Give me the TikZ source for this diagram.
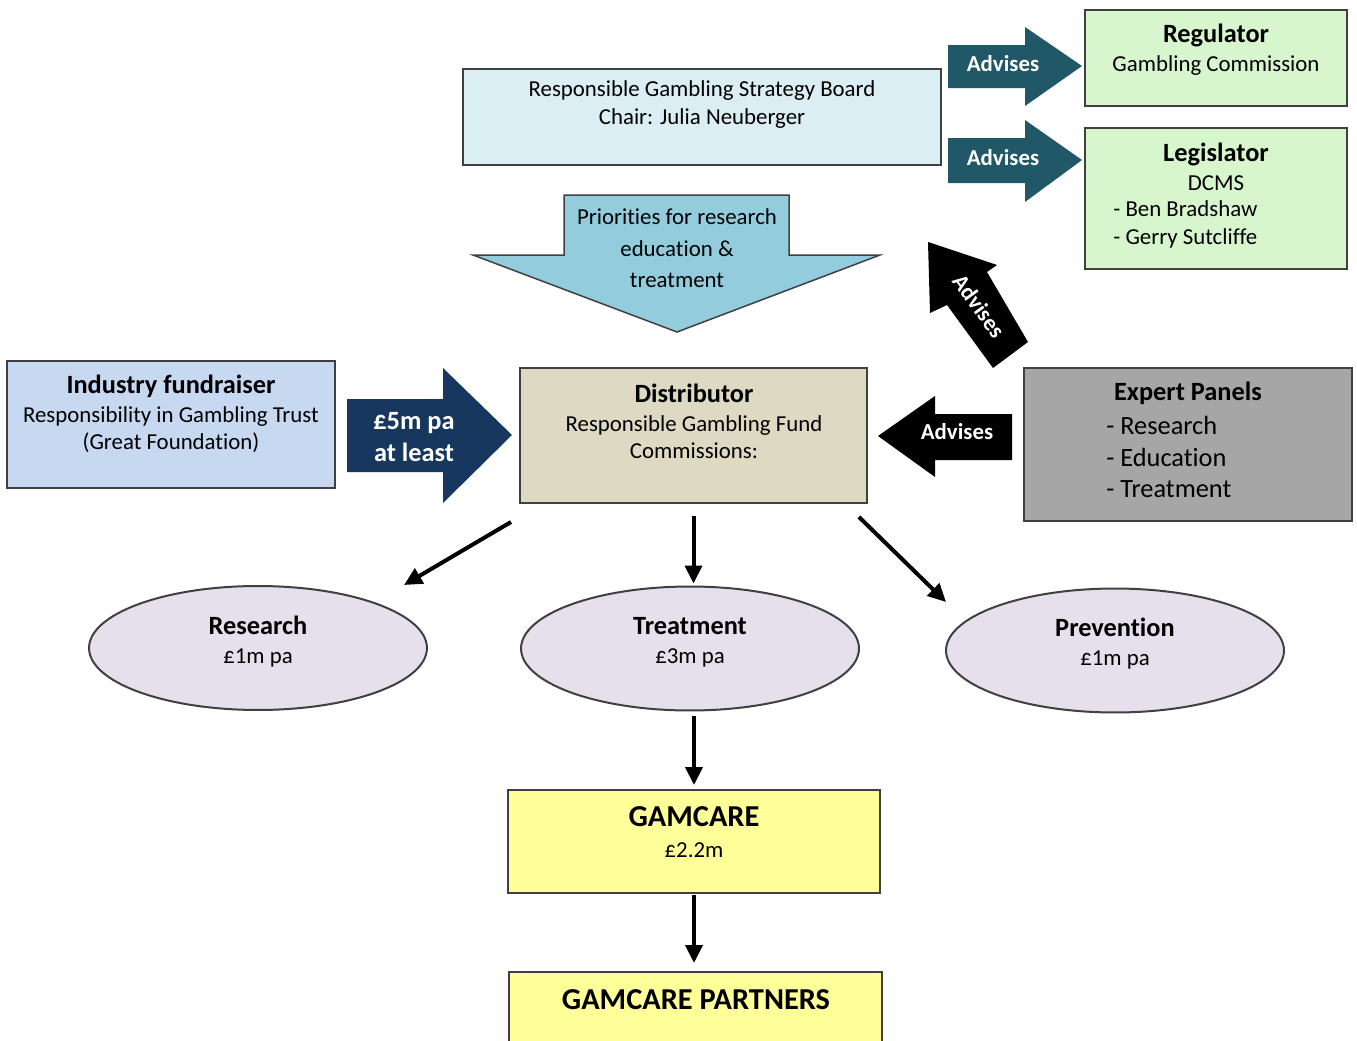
\documentclass[tikz,border=0pt]{standalone}
\usepackage{fontspec}
\setmainfont{Carlito}[Ligatures=NoCommon]
\usetikzlibrary{arrows.meta,shapes.geometric}

\definecolor{edge}{HTML}{404040}
\definecolor{boardblue}{HTML}{DBEEF4}
\definecolor{mint}{HTML}{D7F6CE}
\definecolor{advteal}{HTML}{215868}
\definecolor{prioblue}{HTML}{93CDDD}
\definecolor{fundblue}{HTML}{C6D9F1}
\definecolor{fundnavy}{HTML}{17375E}
\definecolor{disttan}{HTML}{DDD9C3}
\definecolor{panelgray}{HTML}{A6A6A6}
\definecolor{lilac}{HTML}{E5E0EC}
\definecolor{gamyellow}{HTML}{FFFF99}

\newcommand{\ttl}[1]{{\fontsize{15}{17}\selectfont\bfseries #1}}

\begin{document}
\begin{tikzpicture}[x=0.02cm, y=-0.02cm]

\tikzstyle{box}=[draw=edge, line width=0.04cm, inner sep=0pt];
\tikzstyle{oval}=[box, ellipse, fill=lilac, minimum width=6.76cm, minimum height=2.48cm];
\tikzstyle{t}=[inner sep=0pt, align=center, font=\fontsize{13}{15.5}\selectfont];
\tikzstyle{wt}=[t, text=white, font=\fontsize{13}{15.5}\selectfont\bfseries];
\tikzstyle{e}=[line width=0.08cm, -{Triangle[length=0.36cm, width=0.34cm]}];

\path[use as bounding box, fill=white] (0,0) rectangle (1357,1041);
\clip (0,0) rectangle (1357,1041);

% board, regulator, legislator
\node[box, fill=boardblue, minimum width=9.56cm, minimum height=1.92cm] (board) at (702,117) {};
\node[t] (board_t) at (702,104.5) {Responsible Gambling Strategy Board\\Chair: Julia Neuberger};

\node[box, fill=mint, minimum width=5.24cm, minimum height=1.92cm] (reg) at (1216,58) {};
\node[t, font=\fontsize{13}{16.4}\selectfont] (reg_t) at (1216,49.5) {\ttl{Regulator}\\Gambling Commission};

\node[box, fill=mint, minimum width=5.24cm, minimum height=2.82cm] (leg) at (1216,198.5) {};
\node[t, font=\fontsize{13}{16.4}\selectfont] (leg_t) at (1216,166.5) {\ttl{Legislator}\\DCMS};
\node[t, align=left, anchor=west, font=\fontsize{13}{15.9}\selectfont] (leg_l) at (1113,224) {- Ben Bradshaw\\- Gerry Sutcliffe};

\fill[advteal] (948,45) -- (1025,45) -- (1025,27) -- (1082,66) -- (1025,106) -- (1025,88) -- (948,88) -- cycle;
\node[wt] (adv_reg) at (1003,64) {Advises};
\fill[advteal] (948,138) -- (1025,138) -- (1025,120) -- (1082,160) -- (1025,202) -- (1025,183) -- (948,183) -- cycle;
\node[wt] (adv_leg) at (1003,158) {Advises};

% priorities
\draw[edge, fill=prioblue, line width=0.03cm] (564,195) -- (789,195) -- (789,255) -- (880,255) -- (677,332) -- (473,255) -- (564,255) -- cycle;
\node[t, font=\fontsize{13}{17.9}\selectfont] (prio) at (677,248.5) {Priorities for research\\education \&\\treatment};

% fundraiser and distributor
\node[box, fill=fundblue, minimum width=6.56cm, minimum height=2.54cm] (fund) at (171,424.5) {};
\node[t] (fund_t) at (171,414) {\ttl{Industry fundraiser}\\[1pt]Responsibility in Gambling Trust\\(Great Foundation)};

\fill[fundnavy] (347,399) -- (443,399) -- (443,368) -- (512,435) -- (443,503) -- (443,472) -- (347,472) -- cycle;
\node[wt, font=\fontsize{15}{18.1}\selectfont\bfseries] (five) at (414,437) {£5m pa\\at least};

\node[box, fill=disttan, minimum width=6.94cm, minimum height=2.70cm] (dist) at (693.5,435.5) {};
\node[t] (dist_t) at (694,421.5) {\ttl{Distributor}\\[1pt]Responsible Gambling Fund\\Commissions:};

% expert panels
\node[box, fill=panelgray, minimum width=6.56cm, minimum height=3.06cm] (panel) at (1188,444.5) {};
\node[t] (panel_t) at (1188,393) {\ttl{Expert Panels}};
\node[t, align=left, anchor=west, font=\fontsize{15}{18.1}\selectfont] (panel_l) at (1106,457) {- Research\\- Education\\- Treatment};

\fill[black] (1012,414) -- (935,414) -- (935,396) -- (878,436) -- (935,477) -- (935,460) -- (1012,460) -- cycle;
\node[wt] (adv_dist) at (957,432) {Advises};
\fill[black] (928,242) -- (997,265) -- (987,272) -- (1028,342) -- (993,368) -- (947,305) -- (930,313) -- cycle;
\node[wt, rotate=-54] (adv_up) at (979,306) {Advises};

% funds
\node[oval] (res) at (258,648) {};
\node[t] (res_t) at (258,642) {\ttl{Research}\\[1pt]£1m pa};
\node[oval] (treat) at (690,648.5) {};
\node[t] (treat_t) at (690,642) {\ttl{Treatment}\\[1pt]£3m pa};
\node[oval] (prev) at (1115,650.5) {};
\node[t] (prev_t) at (1115,643.5) {\ttl{Prevention}\\[1pt]£1m pa};

\node[box, fill=gamyellow, minimum width=7.44cm, minimum height=2.06cm] (gam) at (694,841.5) {};
\node[t, font=\fontsize{13}{17.6}\selectfont] (gam_t) at (694,832.5) {{\fontsize{17.3}{19}\selectfont\bfseries GAMCARE}\\£2.2m};
\node[box, fill=gamyellow, minimum width=7.46cm, minimum height=1.76cm] (part) at (695.5,1016) {};
\node[t, font=\fontsize{17.3}{19}\selectfont\bfseries] (part_t) at (696,1000) {GAMCARE PARTNERS};

\coordinate (res_in) at (404,585);
\coordinate (prev_in) at (946,602);

\draw[e] ([shift={(-8,18)}]dist.south west) -- (res_in);
\draw[e, shorten <=0.24cm, shorten >=0.04cm] (dist.south) -- (dist.south |- treat.north);
\draw[e] ([shift={(-9,13)}]dist.south east) -- (prev_in);
\draw[e, shorten <=0.1cm, shorten >=0.08cm] (treat.south -| gam.north) -- (gam.north);
\draw[e, shorten <=0.02cm, shorten >=0.16cm] (gam.south) -- (gam.south |- part.north);
\end{tikzpicture}
\end{document}
